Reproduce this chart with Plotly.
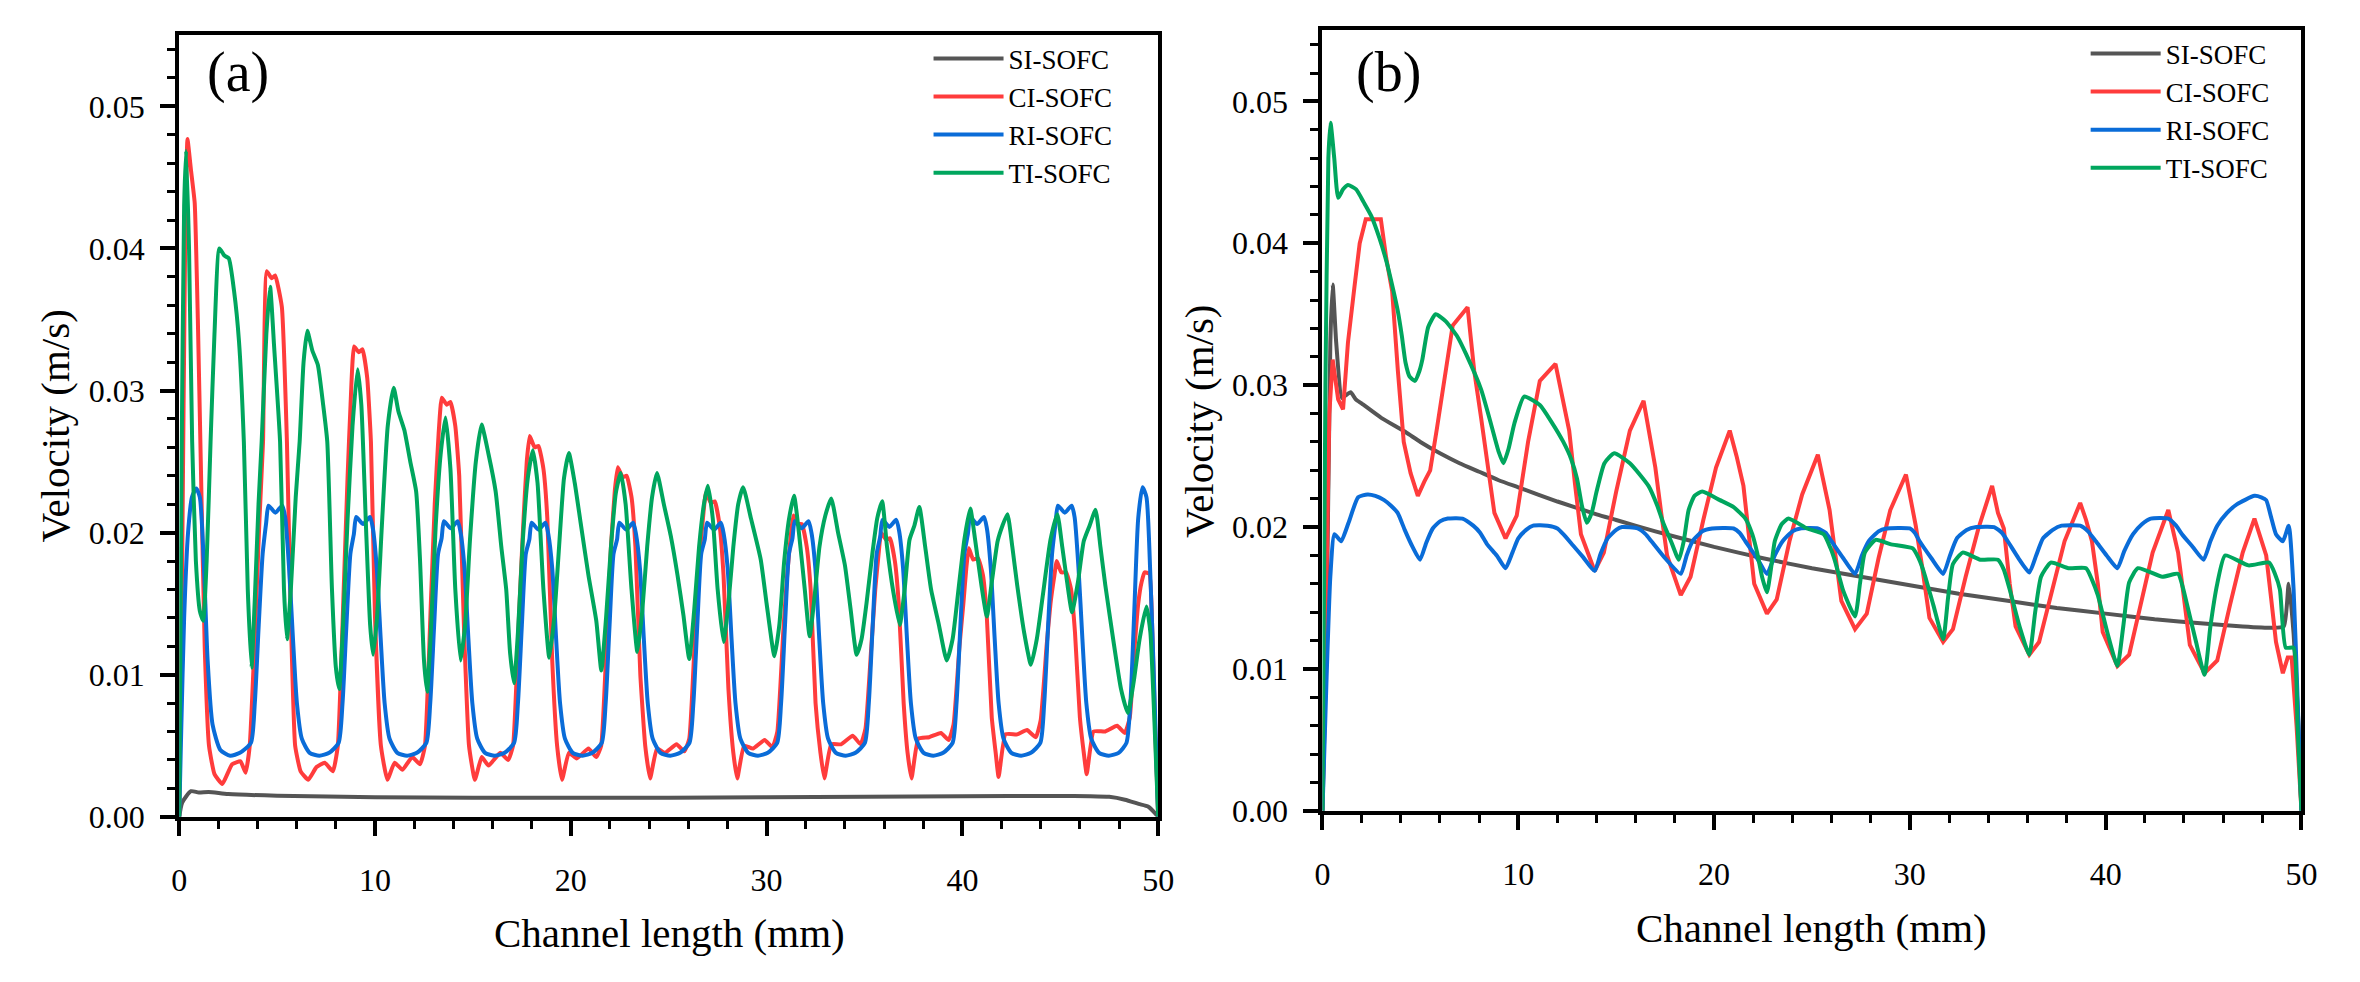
import plotly.graph_objects as go

# ---------------- Panel (a) data ----------------
si_a_x = [0, 0.15, 0.6, 1.0, 1.5, 2.5, 5, 10, 15, 20, 25, 30, 35, 40, 45, 46.5, 47.5, 48.3, 49.0, 49.5, 50]
si_a_y = [0, 0.0010, 0.0018, 0.0017, 0.00175, 0.0016, 0.00148, 0.00138, 0.00134, 0.00133, 0.00134, 0.00137,
          0.0014, 0.00144, 0.00146, 0.00145, 0.0014, 0.0012, 0.0009, 0.0007, 0]

ci_a_x = [0, 0.15, 0.3, 0.42, 0.6, 0.79, 0.95, 1.1, 1.3, 1.52, 1.8, 2.2, 2.7, 3.13, 3.39, 3.6, 3.9, 4.1, 4.28,
          4.47, 4.72, 4.9, 5.24, 5.5, 5.7, 5.92, 6.2, 6.59, 7.01, 7.43, 7.85, 8.1, 8.4, 8.6, 8.75,
          8.93, 9.17, 9.36, 9.6, 9.79, 10.0, 10.3, 10.63, 11.0, 11.4, 11.9, 12.3, 12.55, 12.85, 13.05, 13.25,
          13.41, 13.66, 13.85, 14.1, 14.3, 14.55, 14.8, 15.1, 15.45, 15.8, 16.4, 16.8, 17.05, 17.35, 17.55, 17.75,
          17.9, 18.15, 18.35, 18.6, 18.8, 19.05, 19.3, 19.55, 19.9, 20.3, 20.9, 21.3, 21.55, 21.85, 22.05, 22.25,
          22.4, 22.65, 22.85, 23.1, 23.3, 23.55, 23.8, 24.05, 24.4, 24.8, 25.4, 25.8, 26.05, 26.35, 26.55, 26.75,
          26.9, 27.15, 27.35, 27.6, 27.8, 28.05, 28.3, 28.5, 28.85, 29.3, 29.9, 30.3, 30.55, 30.85, 31.05, 31.25,
          31.37, 31.6, 31.8, 32.05, 32.25, 32.5, 32.75, 32.95, 33.3, 33.8, 34.4, 34.8, 35.05, 35.35, 35.55, 35.72,
          35.85, 36.1, 36.3, 36.55, 36.75, 37.0, 37.2, 37.4, 37.75, 38.3, 38.9, 39.3, 39.55, 39.85, 40.05, 40.2,
          40.33, 40.55, 40.8, 41.05, 41.25, 41.5, 41.7, 41.85, 42.2, 42.8, 43.3, 43.75, 44.0, 44.3, 44.5, 44.68,
          44.82, 45.05, 45.3, 45.55, 45.75, 46.0, 46.2, 46.35, 46.7, 47.3, 47.9, 48.3, 48.55, 48.8, 48.98, 49.15,
          49.3, 49.55, 49.7, 49.85, 50.0]
ci_a_y = [0, 0.018, 0.040, 0.0477, 0.0455, 0.0432, 0.035, 0.025, 0.012, 0.005, 0.0030, 0.0023, 0.0037, 0.0039, 0.0031, 0.005, 0.014, 0.021, 0.0264,
          0.0384, 0.0379, 0.0381, 0.0359, 0.0264, 0.014, 0.005, 0.0032, 0.0026, 0.0035, 0.0038, 0.0032, 0.005, 0.016, 0.024, 0.029,
          0.0331, 0.0327, 0.0329, 0.0309, 0.0264, 0.014, 0.005, 0.0026, 0.0038, 0.0033, 0.0042, 0.0037, 0.005, 0.015, 0.022, 0.027,
          0.0295, 0.029, 0.0292, 0.0275, 0.024, 0.013, 0.005, 0.0026, 0.0042, 0.0036, 0.0045, 0.004, 0.005, 0.014, 0.020, 0.025,
          0.0268, 0.026, 0.0261, 0.0245, 0.021, 0.011, 0.005, 0.0026, 0.0045, 0.0041, 0.0048, 0.0042, 0.005, 0.013, 0.019, 0.023,
          0.0246, 0.0239, 0.024, 0.0225, 0.019, 0.010, 0.005, 0.0027, 0.0048, 0.0045, 0.0051, 0.0046, 0.0055, 0.013, 0.018, 0.021,
          0.0228, 0.0221, 0.0222, 0.0205, 0.017, 0.009, 0.0045, 0.0027, 0.005, 0.0048, 0.0054, 0.0049, 0.006, 0.013, 0.017, 0.020,
          0.0212, 0.0206, 0.0206, 0.019, 0.016, 0.008, 0.0045, 0.0027, 0.0051, 0.0051, 0.0057, 0.0051, 0.0062, 0.012, 0.016, 0.0185,
          0.0200, 0.0195, 0.0196, 0.018, 0.015, 0.008, 0.0045, 0.0027, 0.0055, 0.0056, 0.0059, 0.0054, 0.0065, 0.012, 0.015, 0.0175,
          0.0189, 0.0181, 0.0182, 0.017, 0.014, 0.007, 0.0045, 0.0028, 0.0058, 0.0058, 0.0061, 0.0056, 0.0068, 0.012, 0.015, 0.0168,
          0.0180, 0.0172, 0.0172, 0.016, 0.013, 0.007, 0.0045, 0.003, 0.006, 0.006, 0.0064, 0.0059, 0.007, 0.012, 0.015, 0.0165,
          0.0172, 0.0171, 0.013, 0.006, 0]

ri_a_x = [0, 0.1, 0.25, 0.45, 0.65, 0.87, 1.05, 1.25, 1.45, 1.7, 2.1, 2.6, 3.1,
          3.66, 3.86, 4.06, 4.26, 4.44, 4.56, 4.91, 5.26, 5.41, 5.61, 5.81, 6.01, 6.26, 6.66, 7.16, 7.66,
          8.14, 8.34, 8.54, 8.74, 8.92, 9.04, 9.39, 9.74, 9.89, 10.09, 10.29, 10.49, 10.74, 11.14, 11.64, 12.14,
          12.62, 12.82, 13.02, 13.22, 13.40, 13.52, 13.87, 14.22, 14.37, 14.57, 14.77, 14.97, 15.22, 15.62, 16.12, 16.62,
          17.10, 17.30, 17.50, 17.70, 17.88, 18.0, 18.35, 18.7, 18.85, 19.05, 19.25, 19.45, 19.7, 20.1, 20.6, 21.1,
          21.58, 21.78, 21.98, 22.18, 22.36, 22.48, 22.83, 23.18, 23.33, 23.53, 23.73, 23.93, 24.18, 24.58, 25.08, 25.58,
          26.06, 26.26, 26.46, 26.66, 26.84, 26.96, 27.31, 27.66, 27.81, 28.01, 28.21, 28.41, 28.66, 29.06, 29.56, 30.06,
          30.54, 30.74, 30.94, 31.14, 31.32, 31.44, 31.79, 32.14, 32.29, 32.49, 32.69, 32.89, 33.14, 33.54, 34.04, 34.54,
          35.02, 35.22, 35.42, 35.62, 35.80, 35.92, 36.27, 36.62, 36.77, 36.97, 37.17, 37.37, 37.62, 38.02, 38.52, 39.02,
          39.5, 39.7, 39.9, 40.1, 40.28, 40.4, 40.75, 41.1, 41.25, 41.45, 41.65, 41.85, 42.1, 42.5, 43.0, 43.5,
          43.98, 44.18, 44.38, 44.58, 44.76, 44.88, 45.23, 45.58, 45.73, 45.93, 46.13, 46.33, 46.58, 46.98, 47.48, 47.98,
          48.38, 48.58, 48.78, 48.98, 49.2, 49.4, 49.6, 49.8, 50]
ri_a_y = [0, 0.006, 0.014, 0.020, 0.0225, 0.0231, 0.0225, 0.018, 0.011, 0.0065, 0.0047, 0.0043, 0.0045,
          0.0052, 0.008, 0.0135, 0.0185, 0.0207, 0.0219, 0.0214, 0.0219, 0.0211, 0.0175, 0.0125, 0.008, 0.0055, 0.0045, 0.0043, 0.0045,
          0.0052, 0.008, 0.0135, 0.0185, 0.0199, 0.0211, 0.0206, 0.0211, 0.0203, 0.0175, 0.0125, 0.008, 0.0055, 0.0045, 0.0043, 0.0045,
          0.0052, 0.008, 0.0135, 0.0185, 0.0196, 0.0208, 0.0203, 0.0208, 0.0200, 0.0175, 0.0125, 0.008, 0.0055, 0.0045, 0.0043, 0.0045,
          0.0052, 0.008, 0.0135, 0.0185, 0.0195, 0.0207, 0.0202, 0.0207, 0.0199, 0.0175, 0.0125, 0.008, 0.0055, 0.0045, 0.0043, 0.0045,
          0.0052, 0.008, 0.0135, 0.0185, 0.0195, 0.0207, 0.0202, 0.0207, 0.0199, 0.0175, 0.0125, 0.008, 0.0055, 0.0045, 0.0043, 0.0045,
          0.0052, 0.008, 0.0135, 0.0185, 0.0195, 0.0207, 0.0202, 0.0207, 0.0199, 0.0175, 0.0125, 0.008, 0.0055, 0.0045, 0.0043, 0.0045,
          0.0052, 0.008, 0.0135, 0.0185, 0.0196, 0.0208, 0.0203, 0.0208, 0.0200, 0.0175, 0.0125, 0.008, 0.0055, 0.0045, 0.0043, 0.0045,
          0.0052, 0.008, 0.0135, 0.0185, 0.0197, 0.0209, 0.0204, 0.0209, 0.0201, 0.0175, 0.0125, 0.008, 0.0055, 0.0045, 0.0043, 0.0045,
          0.0052, 0.008, 0.0135, 0.0185, 0.0199, 0.0211, 0.0206, 0.0211, 0.0203, 0.0175, 0.0125, 0.008, 0.0055, 0.0045, 0.0043, 0.0045,
          0.0052, 0.008, 0.0135, 0.0185, 0.0207, 0.0219, 0.0214, 0.0219, 0.0211, 0.0175, 0.0125, 0.008, 0.0055, 0.0045, 0.0043, 0.0045,
          0.0052, 0.008, 0.0145, 0.021, 0.0232, 0.0225, 0.017, 0.009, 0]

ti_a_x = [0, 0.12, 0.25, 0.35, 0.5, 0.66, 0.85, 1.05, 1.22, 1.4, 1.6, 1.8, 2.05, 2.3, 2.53, 2.8, 3.05, 3.3, 3.5, 3.69,
          3.85, 4.05, 4.21, 4.45, 4.64, 4.85, 5.15, 5.35, 5.5, 5.7, 5.95, 6.15, 6.35, 6.54, 6.8, 7.08, 7.35, 7.56, 7.8, 8.0, 8.17,
          8.35, 8.6, 8.85, 9.11, 9.3, 9.55, 9.75, 9.9, 10.1, 10.35, 10.65, 10.95, 11.2, 11.5, 11.8, 12.1, 12.3, 12.5, 12.66,
          12.85, 13.1, 13.35, 13.6, 13.85, 14.1, 14.37, 14.6, 14.85, 15.15, 15.44, 15.8, 16.16, 16.45, 16.7, 16.9, 17.1,
          17.3, 17.55, 17.8, 18.06, 18.3, 18.6, 18.9, 19.15, 19.4, 19.65, 19.9, 20.2, 20.5, 20.9, 21.3, 21.56,
          21.8, 22.05, 22.3, 22.55, 22.8, 23.1, 23.4, 23.65, 23.9, 24.15, 24.4, 24.75, 25.1, 25.45, 25.75, 26.05,
          26.3, 26.55, 26.8, 27.0, 27.25, 27.5, 27.8, 28.05, 28.3, 28.55, 28.8, 29.2, 29.7, 30.0, 30.4,
          30.65, 30.9, 31.15, 31.4, 31.65, 31.95, 32.2, 32.45, 32.7, 33.0, 33.3, 33.65, 34.0, 34.3, 34.6,
          34.85, 35.1, 35.4, 35.65, 35.9, 36.15, 36.45, 36.8, 37.05, 37.3, 37.55, 37.8, 38.1, 38.4, 38.8, 39.2,
          39.5, 39.8, 40.1, 40.4, 40.65, 40.95, 41.25, 41.5, 41.8, 42.05, 42.3, 42.55, 42.8, 43.15, 43.5,
          43.8, 44.1, 44.5, 44.85, 45.1, 45.35, 45.6, 45.9, 46.2, 46.5, 46.8, 47.05, 47.3, 47.7, 48.1, 48.45,
          48.75, 49.05, 49.4, 49.6, 49.8, 50]
ti_a_y = [0, 0.025, 0.043, 0.0469, 0.040, 0.0264, 0.018, 0.0145, 0.0138, 0.018, 0.0264, 0.034, 0.040, 0.0395, 0.0393, 0.037, 0.0335, 0.0264, 0.016, 0.0105,
          0.015, 0.022, 0.0264, 0.034, 0.0373, 0.033, 0.0264, 0.016, 0.0125, 0.016, 0.0225, 0.0264, 0.032, 0.0342, 0.0328, 0.0318, 0.029, 0.0264, 0.016, 0.0105, 0.009,
          0.013, 0.021, 0.0275, 0.0315, 0.029, 0.020, 0.0135, 0.0114, 0.014, 0.0205, 0.0275, 0.0302, 0.0285, 0.0272, 0.025, 0.0229, 0.018, 0.011, 0.0088,
          0.013, 0.0205, 0.0255, 0.0281, 0.0245, 0.016, 0.011, 0.0135, 0.0195, 0.025, 0.0276, 0.0255, 0.0229, 0.019, 0.016, 0.0115, 0.0094,
          0.013, 0.0195, 0.0238, 0.0258, 0.0235, 0.016, 0.0112, 0.014, 0.019, 0.0238, 0.0256, 0.0235, 0.0207, 0.017, 0.0138, 0.0103,
          0.014, 0.019, 0.0228, 0.0242, 0.022, 0.016, 0.0116, 0.0145, 0.019, 0.0225, 0.0242, 0.022, 0.0198, 0.017, 0.0142, 0.0111,
          0.0145, 0.019, 0.022, 0.0233, 0.021, 0.016, 0.0123, 0.015, 0.019, 0.022, 0.0232, 0.021, 0.0181, 0.015, 0.0113,
          0.0135, 0.018, 0.021, 0.0226, 0.020, 0.016, 0.0127, 0.0155, 0.019, 0.0212, 0.0224, 0.020, 0.0177, 0.0145, 0.0114,
          0.0125, 0.015, 0.0185, 0.021, 0.0222, 0.019, 0.016, 0.0135, 0.016, 0.0195, 0.0205, 0.0218, 0.019, 0.016, 0.0135, 0.011,
          0.0125, 0.016, 0.0195, 0.0217, 0.0195, 0.0165, 0.0141, 0.0165, 0.0194, 0.0205, 0.0213, 0.019, 0.0163, 0.013, 0.0107,
          0.0125, 0.0155, 0.0195, 0.0213, 0.019, 0.0165, 0.0144, 0.0165, 0.0194, 0.0205, 0.0216, 0.019, 0.0163, 0.0125, 0.009, 0.0073,
          0.0095, 0.0125, 0.0148, 0.013, 0.007, 0]

# ---------------- Panel (b) data ----------------
si_b_x = [0, 0.2, 0.4, 0.52, 0.7, 0.99, 1.2, 1.44, 1.7, 2.01, 3.0, 4.24, 5.0, 6.0, 7.0, 8.0, 9.0, 10.0, 12.0, 14.0, 15.0,
          17.0, 20.0, 22.5, 25.0, 27.5, 30.0, 32.5, 35.0, 37.5, 40.0, 42.5, 45.0, 47.0, 48.5, 49.1, 49.35, 49.6, 49.85, 50]
si_b_y = [0, 0.012, 0.033, 0.0371, 0.033, 0.0291, 0.0293, 0.0295, 0.029, 0.0287, 0.0277, 0.0267, 0.026, 0.0252, 0.0245,
          0.0239, 0.0233, 0.0228, 0.0218, 0.0209, 0.0205, 0.0197, 0.0186, 0.0178, 0.0171, 0.0165, 0.0159, 0.0153, 0.0148,
          0.0143, 0.0139, 0.0135, 0.0132, 0.013, 0.0129, 0.013, 0.016, 0.0125, 0.006, 0]

ci_b_x = [0, 0.2, 0.35, 0.52, 0.8, 1.05, 1.3, 1.63, 1.9, 2.21, 2.98, 3.25, 3.56, 3.85, 4.15, 4.5, 4.87, 5.2, 5.5, 5.85,
          6.2, 6.65, 7.41, 7.75, 8.1, 8.45, 8.78, 9.35, 9.92, 10.5, 11.1, 11.9, 12.25, 12.6, 12.9, 13.2, 13.9, 14.37,
          15.0, 15.7, 16.4, 16.7, 17.0, 17.3, 17.6, 18.3, 18.8, 19.45, 20.1, 20.8, 21.15, 21.5, 21.8, 22.05, 22.7, 23.2,
          23.85, 24.5, 25.3, 25.6, 25.9, 26.2, 26.5, 27.2, 27.8, 28.4, 29.0, 29.8, 30.05, 30.3, 30.65, 31.0, 31.7, 32.2,
          32.85, 33.5, 34.2, 34.5, 34.8, 35.1, 35.4, 36.1, 36.6, 37.25, 37.9, 38.7, 39.0, 39.3, 39.6, 39.85, 40.6, 41.2,
          41.8, 42.4, 43.2, 43.45, 43.7, 44.0, 44.3, 45.05, 45.7, 46.35, 47.0, 47.6, 47.9, 48.2, 48.45, 48.7, 49.05,
          49.3, 49.5, 49.75, 50]
ci_b_y = [0, 0.015, 0.028, 0.0318, 0.029, 0.0283, 0.033, 0.0369, 0.040, 0.0417, 0.0417, 0.039, 0.0366, 0.031, 0.026,
          0.0238, 0.0222, 0.0232, 0.024, 0.027, 0.0303, 0.0342, 0.0355, 0.031, 0.0277, 0.024, 0.021, 0.0192, 0.0208,
          0.026, 0.0303, 0.0315, 0.029, 0.0268, 0.023, 0.0195, 0.0169, 0.0182, 0.0225, 0.0268, 0.0289, 0.0265, 0.0242,
          0.021, 0.018, 0.0152, 0.0165, 0.0205, 0.0242, 0.0268, 0.025, 0.0229, 0.019, 0.016, 0.0139, 0.0149, 0.019,
          0.0223, 0.0251, 0.023, 0.0212, 0.018, 0.0148, 0.0128, 0.0139, 0.0178, 0.0212, 0.0237, 0.022, 0.0201, 0.017,
          0.0136, 0.0119, 0.0128, 0.0165, 0.0199, 0.0229, 0.021, 0.0199, 0.016, 0.013, 0.011, 0.0119, 0.0155, 0.019,
          0.0217, 0.0205, 0.019, 0.016, 0.0126, 0.0102, 0.011, 0.0145, 0.0182, 0.0212, 0.0197, 0.0182, 0.015, 0.0117,
          0.0097, 0.0106, 0.0145, 0.0182, 0.0206, 0.0193, 0.018, 0.015, 0.0119, 0.0097, 0.0108, 0.0108, 0.006, 0]

ri_b_x = [0, 0.2, 0.4, 0.61, 0.95, 1.33, 1.82, 2.3, 2.7, 3.15, 3.5, 3.84, 4.2, 4.6, 4.98, 5.3, 5.63, 6.0, 6.4, 7.15,
          7.7, 8.05, 8.4, 8.9, 9.35, 9.7, 10.0, 10.4, 10.76, 11.5, 12.0, 12.3, 12.8, 13.3, 13.9, 14.2, 14.56, 15.0, 15.3,
          16.1, 16.5, 16.8, 17.5, 18.3, 18.6, 18.9, 19.4, 19.9, 21.0, 21.3, 21.6, 22.2, 22.7, 23.1, 23.5, 24.0, 24.4,
          25.3, 25.7, 26.0, 26.6, 27.2, 27.55, 27.9, 28.4, 28.8, 30.0, 30.25, 30.5, 31.1, 31.7, 32.05, 32.4, 32.9, 33.4,
          34.3, 34.7, 35.0, 35.55, 36.1, 36.45, 36.8, 37.3, 37.75, 38.7, 39.1, 39.5, 40.05, 40.6, 40.95, 41.4, 41.85,
          42.3, 43.2, 43.6, 43.9, 44.45, 45.0, 45.35, 45.7, 46.2, 46.7, 47.6, 47.95, 48.2, 48.45, 48.7, 49.05, 49.35,
          49.6, 49.8, 50]
ri_b_y = [0, 0.009, 0.0165, 0.0195, 0.019, 0.0203, 0.0221, 0.0223, 0.0222, 0.0219, 0.0215, 0.021, 0.0198, 0.0186,
          0.0177, 0.0189, 0.0199, 0.0204, 0.0206, 0.0206, 0.0201, 0.0196, 0.0188, 0.018, 0.0171, 0.0182, 0.0192, 0.0198,
          0.0201, 0.0201, 0.0199, 0.0195, 0.0187, 0.0179, 0.0169, 0.0181, 0.0192, 0.0198, 0.02, 0.0199, 0.0195, 0.019,
          0.0178, 0.0167, 0.018, 0.019, 0.0197, 0.0199, 0.0199, 0.0196, 0.019, 0.0178, 0.0167, 0.018, 0.019, 0.0197,
          0.0199, 0.0199, 0.0196, 0.019, 0.0178, 0.0167, 0.018, 0.019, 0.0197, 0.0199, 0.0199, 0.0196, 0.019, 0.0178,
          0.0167, 0.018, 0.0192, 0.0198, 0.02, 0.02, 0.0196, 0.019, 0.0178, 0.0168, 0.018, 0.0192, 0.0198, 0.0201,
          0.0201, 0.0197, 0.019, 0.018, 0.0171, 0.0183, 0.0195, 0.0202, 0.0206, 0.0206, 0.0201, 0.0195, 0.0186, 0.0177,
          0.019, 0.0201, 0.021, 0.0216, 0.0222, 0.0221, 0.0219, 0.0207, 0.0195, 0.019, 0.0201, 0.0156, 0.008, 0]

ti_b_x = [0, 0.15, 0.3, 0.41, 0.6, 0.8, 1.05, 1.3, 1.72, 2.1, 2.5, 2.9, 3.27, 3.6, 3.85, 4.05, 4.24, 4.45, 4.72, 4.95,
          5.1, 5.4, 5.78, 6.3, 6.9, 7.33, 8.1, 8.6, 9.0, 9.24, 9.5, 9.8, 10.3, 11.1, 11.7, 12.3, 12.7, 13.0, 13.25,
          13.5, 13.75, 14.0, 14.4, 14.9, 15.7, 16.65, 17.1, 17.4, 17.8, 18.2, 18.45, 18.7, 19.0, 19.4, 20.3, 21.0,
          21.6, 21.95, 22.2, 22.45, 22.7, 22.9, 23.1, 23.45, 23.8, 24.75, 25.6, 25.95, 26.2, 26.6, 27.2, 27.45, 27.7,
          28.25, 29.0, 30.15, 30.45, 30.7, 31.2, 31.7, 31.95, 32.2, 32.7, 33.6, 34.5, 34.8, 35.1, 35.6, 36.1, 36.4,
          36.7, 37.2, 38.1, 39.0, 39.3, 39.6, 40.1, 40.6, 40.9, 41.2, 41.65, 42.9, 43.7, 43.95, 44.2, 44.6, 45.05,
          45.35, 45.7, 46.1, 47.3, 48.35, 48.65, 48.9, 49.2, 49.6, 49.8, 50]
ti_b_y = [0, 0.03, 0.046, 0.0485, 0.046, 0.0432, 0.0438, 0.0441, 0.0438, 0.0429, 0.0419, 0.0404, 0.0387, 0.0368,
          0.0352, 0.0335, 0.0316, 0.0306, 0.0303, 0.031, 0.0318, 0.0341, 0.035, 0.0345, 0.0334, 0.0322, 0.0297, 0.0273,
          0.0253, 0.0245, 0.0255, 0.0273, 0.0292, 0.0286, 0.0274, 0.026, 0.0248, 0.0234, 0.0215, 0.0203, 0.021, 0.0225,
          0.0245, 0.0252, 0.0245, 0.0229, 0.0215, 0.0203, 0.019, 0.0177, 0.019, 0.0212, 0.0222, 0.0225, 0.0219, 0.0214,
          0.0206, 0.0195, 0.0182, 0.0165, 0.0154, 0.017, 0.019, 0.0202, 0.0206, 0.0199, 0.0195, 0.0185, 0.0175, 0.0155,
          0.0137, 0.016, 0.0182, 0.0191, 0.0188, 0.0185, 0.0178, 0.0169, 0.0145, 0.0121, 0.015, 0.0174, 0.0182, 0.0177,
          0.0177, 0.017, 0.0156, 0.013, 0.011, 0.014, 0.0165, 0.0175, 0.0171, 0.0171, 0.0163, 0.0152, 0.0125, 0.0102,
          0.013, 0.0161, 0.0171, 0.0165, 0.0167, 0.0157, 0.0143, 0.012, 0.0096, 0.013, 0.016, 0.018, 0.0173, 0.0175,
          0.0167, 0.0156, 0.0115, 0.0115, 0.006, 0]

names = ["SI-SOFC", "CI-SOFC", "RI-SOFC", "TI-SOFC"]
colors = ["#555555", "#ff3c3c", "#0a6cd8", "#00a65e"]
# smoothing per series (panel a / panel b); 0 -> straight segments
smooth_a = [0.6, 0.4, 0.6, 0.5]
smooth_b = [0.5, 0.0, 0.5, 0.5]

W, H = 2360, 982
FONT = "Liberation Serif, Times New Roman, Times, serif"

def px_x(p):
    return p / W

def px_y(p):
    return 1 - p / H

fig = go.Figure()

series_a = [(si_a_x, si_a_y), (ci_a_x, ci_a_y), (ri_a_x, ri_a_y), (ti_a_x, ti_a_y)]
series_b = [(si_b_x, si_b_y), (ci_b_x, ci_b_y), (ri_b_x, ri_b_y), (ti_b_x, ti_b_y)]

def line_style(c, s):
    if s > 0:
        return dict(color=c, width=4, shape="spline", smoothing=s)
    return dict(color=c, width=4)

for (xs, ys), n, c, s in zip(series_a, names, colors, smooth_a):
    fig.add_trace(go.Scatter(x=xs, y=ys, mode="lines", name=n, line=line_style(c, s),
                             xaxis="x", yaxis="y", legend="legend"))
for (xs, ys), n, c, s in zip(series_b, names, colors, smooth_b):
    fig.add_trace(go.Scatter(x=xs, y=ys, mode="lines", name=n, line=line_style(c, s),
                             xaxis="x2", yaxis="y2", legend="legend2"))

tickfont = dict(family=FONT, size=32, color="black")

def xaxis(dom, anchor):
    return dict(domain=dom, anchor=anchor, range=[0, 50], tickvals=[0, 10, 20, 30, 40, 50],
                ticks="outside", ticklen=15, tickwidth=3.5, tickcolor="black", ticklabelstandoff=17,
                minor=dict(dtick=2, tick0=0, ticks="outside", ticklen=8, tickwidth=3, tickcolor="black"),
                showline=True, linewidth=4, linecolor="black", mirror=True,
                showgrid=False, zeroline=False, tickfont=tickfont)

def yaxis(dom, anchor):
    return dict(domain=dom, anchor=anchor, range=[0, 0.055], tickvals=[0, 0.01, 0.02, 0.03, 0.04, 0.05],
                tickformat=".2f",
                ticks="outside", ticklen=15, tickwidth=3.5, tickcolor="black", ticklabelstandoff=9,
                minor=dict(dtick=0.002, tick0=0, ticks="outside", ticklen=8, tickwidth=3, tickcolor="black"),
                showline=True, linewidth=4, linecolor="black", mirror=True,
                showgrid=False, zeroline=False, tickfont=tickfont)

legfont = dict(family=FONT, size=27, color="black")

fig.update_layout(
    width=W, height=H,
    margin=dict(l=0, r=0, t=0, b=0),
    paper_bgcolor="white", plot_bgcolor="white",
    showlegend=True,
    xaxis=xaxis([px_x(173), px_x(1162)], "y"),
    yaxis=yaxis([1 - 832 / H, 1 - 36 / H], "x"),
    xaxis2=xaxis([px_x(1328), px_x(2317)], "y2"),
    yaxis2=yaxis([1 - 826 / H, 1 - 31 / H], "x2"),
    legend=dict(x=px_x(930), y=px_y(35), xanchor="left", yanchor="top", font=legfont,
                bgcolor="rgba(0,0,0,0)", itemwidth=70, tracegroupgap=0),
    legend2=dict(x=px_x(2099), y=px_y(30), xanchor="left", yanchor="top", font=legfont,
                 bgcolor="rgba(0,0,0,0)", itemwidth=70, tracegroupgap=0),
    annotations=[
        dict(text="(a)", x=px_x(232), y=px_y(74), xref="paper", yref="paper", showarrow=False,
             font=dict(family=FONT, size=56, color="black"), xanchor="center", yanchor="middle"),
        dict(text="(b)", x=px_x(1395), y=px_y(74), xref="paper", yref="paper", showarrow=False,
             font=dict(family=FONT, size=56, color="black"), xanchor="center", yanchor="middle"),
        dict(text="Velocity (m/s)", x=px_x(48), y=px_y(434), xref="paper", yref="paper", showarrow=False,
             textangle=-90, font=dict(family=FONT, size=41, color="black"), xanchor="center", yanchor="middle"),
        dict(text="Velocity (m/s)", x=px_x(1203), y=px_y(429), xref="paper", yref="paper", showarrow=False,
             textangle=-90, font=dict(family=FONT, size=41, color="black"), xanchor="center", yanchor="middle"),
        dict(text="Channel length (mm)", x=px_x(668), y=px_y(950), xref="paper", yref="paper", showarrow=False,
             font=dict(family=FONT, size=41, color="black"), xanchor="center", yanchor="middle"),
        dict(text="Channel length (mm)", x=px_x(1822), y=px_y(945), xref="paper", yref="paper", showarrow=False,
             font=dict(family=FONT, size=41, color="black"), xanchor="center", yanchor="middle"),
    ],
)

fig.write_html("out.html")
